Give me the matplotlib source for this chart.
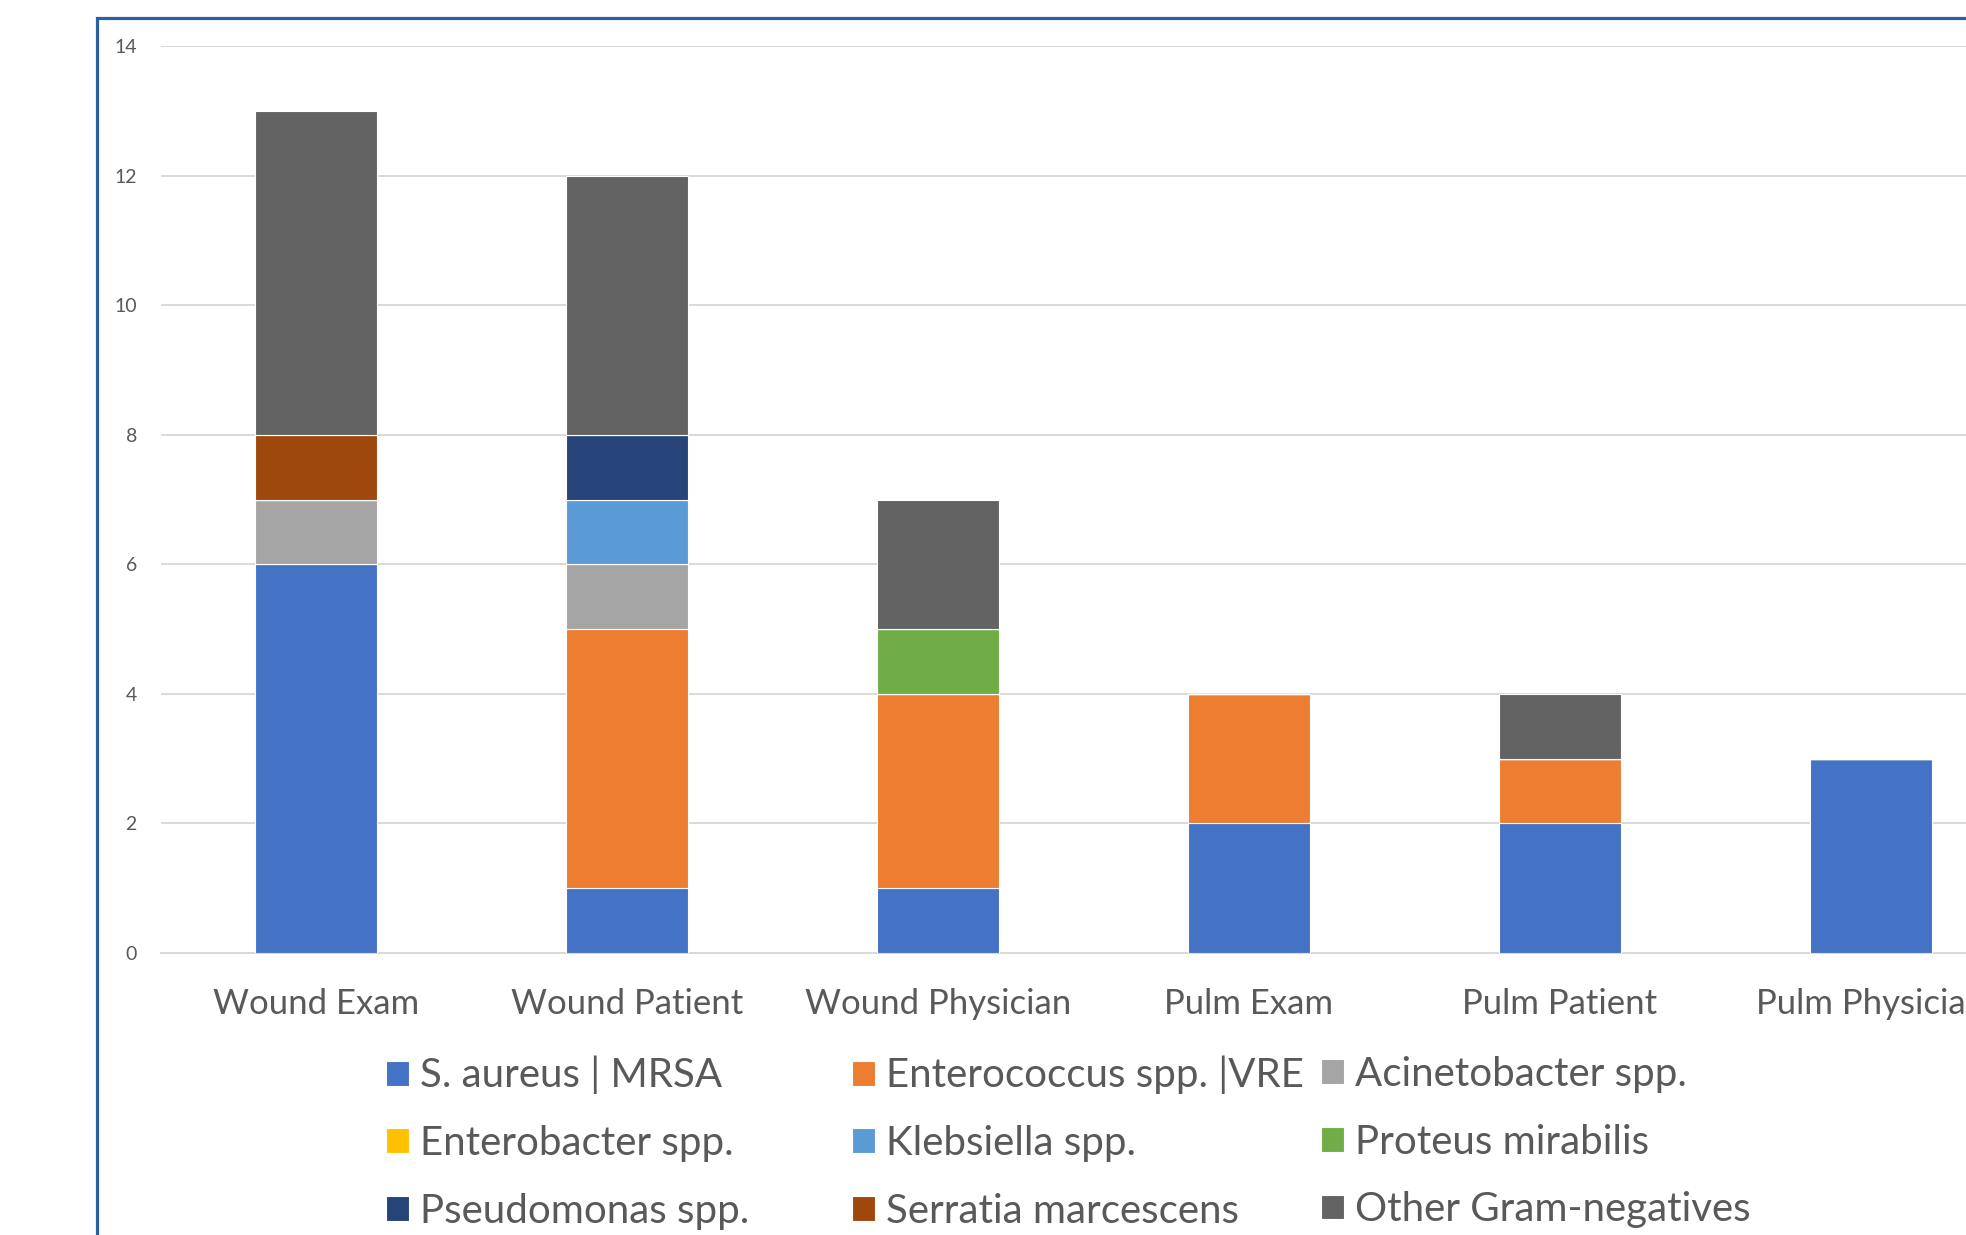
import numpy as np
import matplotlib.pyplot as plt
from matplotlib.patches import Rectangle

plt.rcParams['font.family'] = ['Lato', 'DejaVu Sans']

categories = ['Wound Exam', 'Wound Patient', 'Wound Physician',
              'Pulm Exam', 'Pulm Patient', 'Pulm Physician']

s_aureus      = [6, 1, 1, 2, 2, 3]
enterococcus  = [0, 4, 3, 2, 1, 0]
acinetobacter = [1, 1, 0, 0, 0, 0]
enterobacter  = [0, 0, 0, 0, 0, 0]
klebsiella    = [0, 1, 0, 0, 0, 0]
proteus       = [0, 0, 1, 0, 0, 0]
pseudomonas   = [0, 1, 0, 0, 0, 0]
serratia      = [1, 0, 0, 0, 0, 0]
other_gn      = [5, 4, 2, 0, 1, 0]

series_names = ['S. aureus | MRSA', 'Enterococcus spp. |VRE', 'Acinetobacter spp.',
                'Enterobacter spp.', 'Klebsiella spp.', 'Proteus mirabilis',
                'Pseudomonas spp.', 'Serratia marcescens', 'Other Gram-negatives']
series_values = [s_aureus, enterococcus, acinetobacter, enterobacter, klebsiella,
                 proteus, pseudomonas, serratia, other_gn]
colors = ['#4472C4', '#ED7D31', '#A5A5A5', '#FFC000', '#5B9BD5',
          '#70AD47', '#264478', '#9E480E', '#636363']

W, H = 1966, 1235
fig = plt.figure(figsize=(W / 100, H / 100), dpi=100)

# chart frame (cropped on right and bottom)
fig.patches.append(Rectangle((97 / W, -0.1), 1.2, (H - 18) / H + 0.1,
                             transform=fig.transFigure, fill=False,
                             edgecolor='#2E5FA3', linewidth=2.3, zorder=0))

ax = fig.add_axes([160.5 / W, (H - 953) / H, 1866 / W, 906.6 / H])

x = np.arange(len(categories))
bottom = np.zeros(len(categories))
handles = []
for name, vals, c in zip(series_names, series_values, colors):
    vals = np.array(vals, dtype=float)
    b = ax.bar(x, vals, 0.395, bottom=bottom, color=c, edgecolor='white',
               linewidth=0.8, label=name, zorder=3)
    handles.append(b)
    bottom += vals

ax.set_xlim(-0.5, 5.5)
ax.set_ylim(0, 14)
ax.set_yticks(range(0, 15, 2))
ax.set_xticks(x)
ax.set_xticklabels(categories)
ax.grid(axis='y', color='#D9D9D9', linewidth=1.4, zorder=0)
ax.set_axisbelow(True)
for s in ['top', 'right', 'left']:
    ax.spines[s].set_visible(False)
ax.spines['bottom'].set_color('#D9D9D9')
ax.spines['bottom'].set_linewidth(1.4)
ax.tick_params(axis='y', length=0, pad=17, labelsize=14, labelcolor='#595959')
ax.tick_params(axis='x', length=0, pad=25.5, labelsize=25, labelcolor='#595959')

# legend in three fixed columns
col_x = [386, 852, 1321]
for ci in range(3):
    idx = [ci, ci + 3, ci + 6]
    fig.legend([handles[i] for i in idx], [series_names[i] for i in idx],
               loc='upper left', bbox_to_anchor=(col_x[ci] / W, (H - 1056) / H),
               frameon=False, fontsize=29, labelcolor='#595959',
               handlelength=0.57, handleheight=0.57, handletextpad=0.27,
               labelspacing=0.76, borderpad=0, borderaxespad=0)

fig.savefig('out.png', dpi=100)
